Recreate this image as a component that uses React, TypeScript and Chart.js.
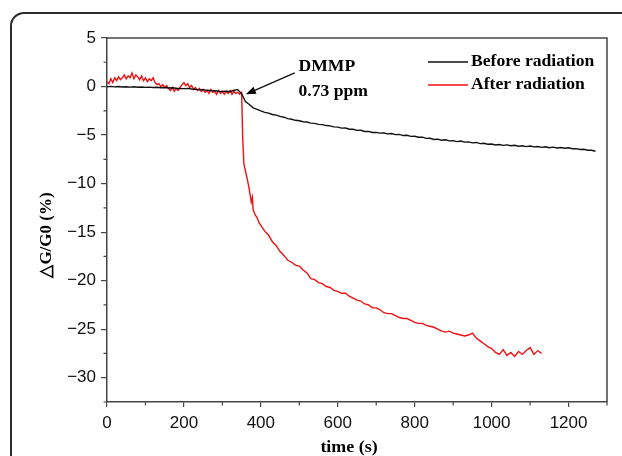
import React, { useEffect, useRef } from 'react';
import { Chart, registerables } from 'chart.js';
Chart.register(...registerables);

const seriesLabels = ['Before radiation', 'After radiation'];
const xTickValues = [0, 200, 400, 600, 800, 1000, 1200];
const yTickValues = [5, 0, -5, -10, -15, -20, -25, -30];
const xMinorTickValues = [100, 300, 500, 700, 900, 1100, 1300];
const yMinorTickValues = [2.5, -2.5, -7.5, -12.5, -17.5, -22.5, -27.5, -32.5];
const xTitle = 'time (s)';
const yTitle = '\u25B3G/G0 (%)';
const annotationText = ['DMMP', '0.73 ppm'];

const blackTimes = [
  0, 10, 20, 30, 40, 50, 60, 70, 80, 90, 100, 110, 120, 130, 140, 150, 160, 170, 180, 190,
  200, 210, 220, 230, 240, 250, 260, 270, 280, 290, 300, 310, 320, 330, 340, 350, 360, 370, 380, 390,
  400, 410, 420, 430, 440, 450, 460, 470, 480, 490, 500, 510, 520, 530, 540, 550, 560, 570, 580, 590,
  600, 610, 620, 630, 640, 650, 660, 670, 680, 690, 700, 710, 720, 730, 740, 750, 760, 770, 780, 790,
  800, 810, 820, 830, 840, 850, 860, 870, 880, 890, 900, 910, 920, 930, 940, 950, 960, 970, 980, 990,
  1000, 1010, 1020, 1030, 1040, 1050, 1060, 1070, 1080, 1090, 1100, 1110, 1120, 1130, 1140, 1150, 1160, 1170, 1180, 1190,
  1200, 1210, 1220, 1230, 1240, 1250, 1260, 1270,
];
const blackValues = [
  -0.02, 0.02, -0.03, 0.0, -0.05, -0.02, -0.06, -0.03, -0.07, -0.05, -0.09, -0.06, -0.1, -0.08, -0.12, -0.1, -0.15, -0.13, -0.17, -0.2,
  -0.22, -0.19, -0.26, -0.29, -0.34, -0.32, -0.39, -0.42, -0.44, -0.48, -0.5, -0.47, -0.53, -0.38, -0.32, -0.75, -1.55, -1.85, -2.2, -2.35,
  -2.5, -2.66, -2.74, -2.88, -2.95, -3.08, -3.16, -3.3, -3.37, -3.48, -3.52, -3.63, -3.66, -3.77, -3.8, -3.9, -3.92, -4.02, -4.05, -4.16,
  -4.18, -4.28, -4.27, -4.4, -4.4, -4.52, -4.5, -4.63, -4.62, -4.74, -4.72, -4.8, -4.79, -4.88, -4.84, -4.95, -4.93, -5.05, -5.02, -5.13,
  -5.12, -5.23, -5.22, -5.34, -5.33, -5.45, -5.42, -5.53, -5.49, -5.6, -5.57, -5.67, -5.62, -5.73, -5.7, -5.8, -5.76, -5.88, -5.85, -5.95,
  -5.92, -6.02, -5.97, -6.06, -6.01, -6.1, -6.05, -6.15, -6.1, -6.19, -6.13, -6.22, -6.18, -6.27, -6.21, -6.3, -6.24, -6.33, -6.28, -6.36,
  -6.31, -6.41, -6.4, -6.48, -6.46, -6.56, -6.57, -6.67,
];

const redTimes = [
  0, 5, 10, 15, 20, 25, 30, 35, 40, 45, 50, 55, 60, 65, 70, 75, 80, 85, 90, 95,
  100, 105, 110, 115, 120, 125, 130, 135, 140, 145, 150, 155, 160, 165, 170, 175, 180, 185, 190, 195,
  200, 205, 210, 215, 220, 225, 230, 235, 240, 245, 250, 255, 260, 265, 270, 275, 280, 285, 290, 295,
  300, 305, 310, 315, 320, 325, 330, 335, 340, 345, 350,
  353, 356, 360, 365, 370, 375, 378, 380, 385, 390, 395, 400,
  410, 420, 430, 440, 450, 460, 470, 480, 490, 500, 510, 520, 530, 540, 550, 560, 570, 580, 590, 600,
  610, 620, 630, 640, 650, 660, 670, 680, 690, 700, 710, 720, 730, 740, 750, 760, 770, 780, 790, 800,
  810, 820, 830, 840, 850, 860, 870, 880, 890, 900, 910, 920, 930, 940, 950, 960, 970, 980, 990, 1000,
  1010, 1020, 1030, 1040, 1050, 1060, 1070, 1080, 1090, 1100, 1110, 1120, 1130,
];
const redValues = [
  0.5, 0.3, 0.8, 0.4, 0.9, 0.6, 1.0, 0.7, 0.9, 1.2, 0.8, 1.1, 0.9, 1.4, 0.8, 1.2, 1.0, 0.7, 1.1, 0.6,
  0.9, 0.5, 0.8, 0.6, 0.9, 0.4, 0.2, 0.3, 0.0, 0.2, -0.1, 0.1, -0.2, -0.4, -0.1, -0.5, -0.2, -0.4, -0.1, 0.2,
  0.4, 0.1, 0.3, -0.1, 0.1, -0.3, -0.1, -0.4, -0.2, -0.5, -0.3, -0.6, -0.4, -0.7, -0.3, -0.6, -0.5, -0.8, -0.4, -0.7,
  -0.5, -0.8, -0.5, -0.7, -0.4, -0.8, -0.5, -0.7, -0.6, -0.8, -0.6,
  -5.5, -8.0, -8.7, -9.6, -10.6, -11.9, -11.4, -12.7, -13.2, -13.5, -14.0, -14.3,
  -14.9, -15.3, -16.0, -16.4, -17.0, -17.4, -17.9, -18.1, -18.4, -18.5, -18.9, -19.2, -19.8, -19.9, -20.2, -20.3, -20.6, -20.7, -21.0, -21.1,
  -21.3, -21.3, -21.6, -21.8, -22.0, -22.1, -22.4, -22.5, -22.8, -22.8, -23.0, -23.3, -23.4, -23.4, -23.6, -23.8, -23.9, -23.9, -24.1, -24.3,
  -24.4, -24.4, -24.6, -24.7, -24.8, -25.0, -25.2, -25.3, -25.2, -25.4, -25.5, -25.6, -25.7, -25.6, -25.4, -25.9, -26.2, -26.5, -26.8, -27.0,
  -27.4, -27.6, -27.1, -27.7, -27.4, -27.8, -27.3, -27.6, -27.2, -26.9, -27.6, -27.2, -27.5,
];

// annotation anchors in data units
const arrowTip = { t: 361, v: -0.8 };
const arrowTail = { t: 488, v: 1.4 };
const annotationAnchor = [
  { t: 498, v: 2.0 },
  { t: 498, v: -0.5 },
];

const zip = (ts: number[], vs: number[]) => {
  const n = Math.min(ts.length, vs.length);
  const out: { x: number; y: number }[] = [];
  for (let i = 0; i < n; i++) out.push({ x: ts[i], y: vs[i] });
  return out;
};

const SERIF = '"Liberation Serif", "Times New Roman", serif';
const SANS = '"Liberation Sans", Arial, sans-serif';

function stretchedText(ctx: CanvasRenderingContext2D, text: string, x: number, y: number, sx: number) {
  ctx.save();
  ctx.translate(x, y);
  ctx.scale(sx, 1);
  ctx.fillText(text, 0, 0);
  ctx.restore();
}

const decorPlugin = {
  id: 'decor',
  afterDraw(chart: any) {
    const ctx: CanvasRenderingContext2D = chart.ctx;
    const { left, right, top, bottom } = chart.chartArea;
    const xs = chart.scales.x;
    const ys = chart.scales.y;
    ctx.save();
    // frame top & right
    ctx.strokeStyle = '#444';
    ctx.lineWidth = 1.5;
    ctx.beginPath();
    ctx.moveTo(left, top);
    ctx.lineTo(right, top);
    ctx.lineTo(right, bottom);
    ctx.stroke();
    // minor ticks
    ctx.lineWidth = 1.2;
    ctx.beginPath();
    xMinorTickValues.forEach((v) => {
      const px = xs.getPixelForValue(v);
      ctx.moveTo(px, bottom);
      ctx.lineTo(px, bottom + 3.5);
    });
    yMinorTickValues.forEach((v) => {
      const py = ys.getPixelForValue(v);
      ctx.moveTo(left, py);
      ctx.lineTo(left - 3.5, py);
    });
    ctx.stroke();

    ctx.fillStyle = '#000';
    // x title
    ctx.font = `bold 16px ${SERIF}`;
    ctx.textBaseline = 'middle';
    ctx.textAlign = 'center';
    stretchedText(ctx, xTitle, (left + right) / 2 - 8, 448, 1.12);
    // y title
    ctx.save();
    ctx.translate(47, 235);
    ctx.rotate(-Math.PI / 2);
    ctx.font = `bold 17px ${SERIF}`;
    ctx.fillText(yTitle, 0, 0);
    ctx.restore();

    // annotation arrow
    const tx = xs.getPixelForValue(arrowTip.t);
    const ty = ys.getPixelForValue(arrowTip.v);
    const fx = xs.getPixelForValue(arrowTail.t);
    const fy = ys.getPixelForValue(arrowTail.v);
    const ang = Math.atan2(ty - fy, tx - fx);
    ctx.strokeStyle = '#111';
    ctx.lineWidth = 1.4;
    ctx.beginPath();
    ctx.moveTo(fx, fy);
    ctx.lineTo(tx - 6 * Math.cos(ang), ty - 6 * Math.sin(ang));
    ctx.stroke();
    ctx.beginPath();
    ctx.moveTo(tx, ty);
    ctx.lineTo(tx - 10 * Math.cos(ang) + 3.8 * Math.sin(ang), ty - 10 * Math.sin(ang) - 3.8 * Math.cos(ang));
    ctx.lineTo(tx - 10 * Math.cos(ang) - 3.8 * Math.sin(ang), ty - 10 * Math.sin(ang) + 3.8 * Math.cos(ang));
    ctx.closePath();
    ctx.fill();

    ctx.font = `bold 16px ${SERIF}`;
    ctx.textAlign = 'left';
    annotationText.forEach((txt, i) => {
      const a = annotationAnchor[i];
      stretchedText(ctx, txt, xs.getPixelForValue(a.t), ys.getPixelForValue(a.v), 1.1);
    });

    // legend
    const colors = ['#111111', '#ee1111'];
    seriesLabels.forEach((lab, i) => {
      const y = top + 24 + i * 23;
      ctx.strokeStyle = colors[i];
      ctx.lineWidth = 1.4;
      ctx.beginPath();
      ctx.moveTo(right - 179, y);
      ctx.lineTo(right - 139, y);
      ctx.stroke();
      ctx.fillStyle = '#000';
      stretchedText(ctx, lab, right - 136, y, 1.1);
    });
    ctx.restore();
  },
};

export default function App() {
  const ref = useRef<HTMLCanvasElement>(null);
  useEffect(() => {
    if (!ref.current) return;
    const chart = new Chart(ref.current, {
      type: 'line',
      data: {
        datasets: [
          {
            label: seriesLabels[0],
            data: zip(blackTimes, blackValues),
            borderColor: '#111111',
            borderWidth: 1.4,
            pointRadius: 0,
            tension: 0,
          },
          {
            label: seriesLabels[1],
            data: zip(redTimes, redValues),
            borderColor: '#ee1111',
            borderWidth: 1.4,
            pointRadius: 0,
            tension: 0,
          },
        ],
      },
      options: {
        animation: false,
        responsive: false,
        devicePixelRatio: 1,
        layout: { padding: { left: 0, top: 38, right: 15, bottom: 0 } },
        plugins: { legend: { display: false }, tooltip: { enabled: false } },
        scales: {
          x: {
            type: 'linear',
            min: 0,
            max: 1300,
            afterBuildTicks: (a: any) => {
              a.ticks = xTickValues.map((v) => ({ value: v }));
            },
            afterFit: (s: any) => {
              s.height = 54;
            },
            grid: { drawOnChartArea: false, drawTicks: true, tickLength: 5, color: '#444', lineWidth: 1.2 },
            border: { display: true, color: '#444', width: 1.5 },
            ticks: {
              font: { family: SANS, size: 17 },
              color: '#111',
              padding: 6,
              maxRotation: 0,
              autoSkip: false,
              callback: (v: any) => String(v),
            },
          },
          y: {
            type: 'linear',
            min: -32.5,
            max: 5,
            afterBuildTicks: (a: any) => {
              a.ticks = yTickValues.map((v) => ({ value: v }));
            },
            afterFit: (s: any) => {
              s.width = 107;
            },
            grid: { drawOnChartArea: false, drawTicks: true, tickLength: 6, color: '#444', lineWidth: 1.2 },
            border: { display: true, color: '#444', width: 1.5 },
            ticks: {
              font: { family: SANS, size: 17 },
              color: '#111',
              padding: 5,
              autoSkip: false,
              callback: (v: any) => (v < 0 ? '\u2212' + Math.abs(v) : String(v)),
            },
          },
        },
      },
      plugins: [decorPlugin],
    } as any);
    return () => chart.destroy();
  }, []);

  return (
    <div style={{ position: 'fixed', left: 0, top: 0, width: 622, height: 456, overflow: 'hidden', background: '#fff' }}>
      <div
        style={{
          position: 'absolute',
          left: 10,
          top: 12,
          width: 700,
          height: 600,
          border: '2px solid #2b2b2b',
          borderRadius: 14,
          boxSizing: 'border-box',
        }}
      />
      <canvas ref={ref} width={622} height={456} style={{ position: 'absolute', left: 0, top: 0, width: 622, height: 456 }} />
    </div>
  );
}
